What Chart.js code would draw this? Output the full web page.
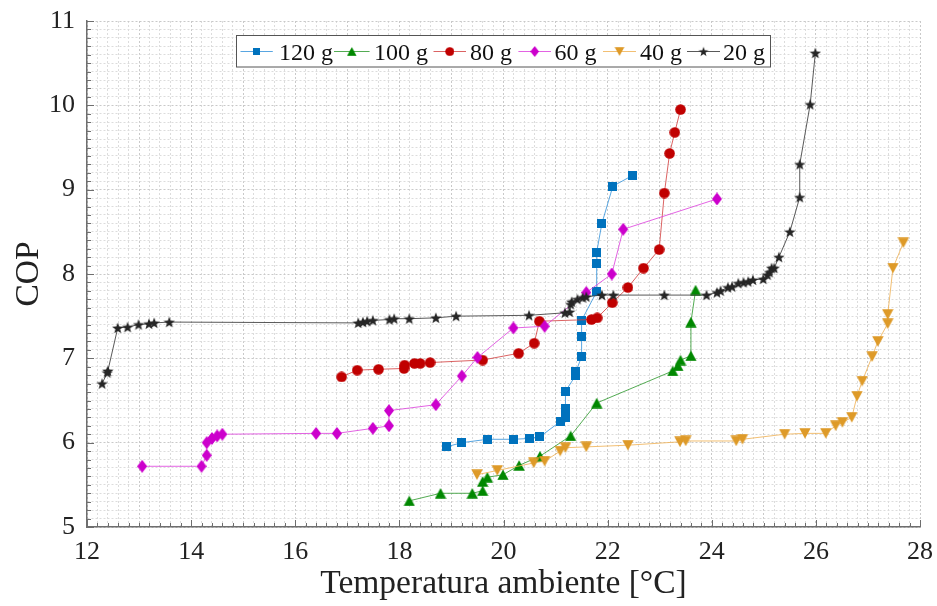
<!DOCTYPE html>
<html><head><meta charset="utf-8">
<script src="https://cdn.jsdelivr.net/npm/chart.js@4/dist/chart.umd.min.js"></script>
<style>html,body{margin:0;padding:0;background:#fff}</style>
</head><body>
<canvas id="c" width="937" height="606"></canvas>
<script>
// ---------- data ----------
const seriesNames = ['120 g','100 g','80 g','60 g','40 g','20 g'];
const xTickLabels = [12,14,16,18,20,22,24,26,28];
const yTickLabels = [5,6,7,8,9,10,11];

const x120 = [18.90,19.20,19.69,20.19,20.50,20.70,21.09,21.19,21.19,21.19,21.39,21.39,21.50,21.50,21.50,21.79,21.79,21.79,21.89,22.10,22.48];
const y120 = [5.95,6.00,6.04,6.04,6.05,6.07,6.25,6.30,6.41,6.61,6.80,6.84,7.02,7.26,7.45,7.79,8.12,8.26,8.60,9.04,9.17];

const x100 = [18.19,18.79,19.40,19.60,19.60,19.69,19.99,20.30,20.70,21.29,21.79,23.25,23.35,23.40,23.60,23.60,23.69];
const y100 = [5.31,5.40,5.40,5.43,5.54,5.59,5.62,5.73,5.84,6.08,6.47,6.85,6.91,6.98,7.03,7.43,7.81];

const x80 = [16.89,17.19,17.60,18.09,18.10,18.29,18.40,18.59,19.60,20.29,20.59,20.69,21.69,21.80,22.09,22.39,22.69,22.99,23.09,23.19,23.29,23.40];
const y80 = [6.78,6.86,6.87,6.88,6.92,6.94,6.94,6.95,6.98,7.06,7.18,7.44,7.46,7.48,7.66,7.84,8.07,8.29,8.96,9.43,9.68,9.95];

const x60 = [13.06,14.20,14.30,14.30,14.40,14.50,14.60,16.40,16.80,17.49,17.80,17.80,18.70,19.20,19.50,20.19,20.79,21.59,22.08,22.30,24.10];
const y60 = [5.72,5.72,5.85,6.00,6.05,6.08,6.10,6.11,6.11,6.17,6.20,6.38,6.45,6.79,7.01,7.36,7.38,7.78,8.00,8.53,8.89];

const x40 = [19.49,19.88,20.58,20.79,21.09,21.19,21.59,22.39,23.39,23.50,24.47,24.59,25.40,25.79,26.19,26.38,26.51,26.69,26.79,26.89,27.08,27.19,27.38,27.38,27.48,27.68];
const y40 = [5.62,5.67,5.76,5.78,5.90,5.94,5.95,5.97,6.01,6.02,6.02,6.04,6.10,6.11,6.11,6.20,6.24,6.30,6.55,6.73,7.02,7.20,7.41,7.52,8.07,8.37];

const x20 = [12.29,12.39,12.40,12.59,12.78,12.99,13.19,13.29,13.58,17.21,17.30,17.38,17.49,17.81,17.90,18.19,18.70,19.09,20.49,21.18,21.27,21.29,21.31,21.42,21.52,21.59,21.89,22.11,23.09,23.90,24.10,24.17,24.31,24.39,24.51,24.61,24.70,24.79,24.99,25.07,25.11,25.15,25.20,25.29,25.50,25.69,25.69,25.89,25.99];
const y20 = [6.70,6.83,6.85,7.36,7.37,7.40,7.41,7.42,7.43,7.42,7.43,7.44,7.45,7.46,7.47,7.47,7.48,7.50,7.51,7.54,7.55,7.64,7.67,7.70,7.72,7.73,7.75,7.75,7.75,7.75,7.78,7.80,7.84,7.85,7.89,7.90,7.91,7.93,7.94,7.99,8.02,8.07,8.07,8.20,8.50,8.91,9.30,10.01,10.62];

const seriesX = [x120,x100,x80,x60,x40,x20];
const seriesY = [y120,y100,y80,y60,y40,y20];

// ---------- styles ----------
const markerColors = ['#0072BD','#008800','#C00000','#CC00CC','#DE9A28','#262626'];
const lineColors = ['rgba(60,150,220,0.85)','rgba(40,150,40,0.8)','rgba(210,60,60,0.8)','rgba(220,60,220,0.8)','rgba(240,180,90,0.85)','rgba(60,60,60,0.85)'];

function mk(w,h,draw){const c=document.createElement('canvas');c.width=w;c.height=h;const g=c.getContext('2d');draw(g,w,h);return c;}
function shapes(col){
  return [
    mk(9,9,(g,w,h)=>{g.fillStyle=col;g.fillRect(0,0,w,h);}),
    mk(12,11,(g,w,h)=>{g.fillStyle=col;g.beginPath();g.moveTo(w/2,0.3);g.lineTo(w-0.3,h-0.3);g.lineTo(0.3,h-0.3);g.closePath();g.fill();}),
    mk(11,11,(g,w,h)=>{g.fillStyle=col;g.beginPath();g.arc(w/2,h/2,w/2-0.2,0,Math.PI*2);g.fill();}),
    mk(10,13,(g,w,h)=>{g.fillStyle=col;g.beginPath();g.moveTo(w/2,0);g.lineTo(w,h/2);g.lineTo(w/2,h);g.lineTo(0,h/2);g.closePath();g.fill();}),
    mk(12,11,(g,w,h)=>{g.fillStyle=col;g.beginPath();g.moveTo(0.3,0.3);g.lineTo(w-0.3,0.3);g.lineTo(w/2,h-0.3);g.closePath();g.fill();}),
    mk(12,12,(g,w,h)=>{g.fillStyle=col;g.beginPath();const cx=w/2,cy=h/2+0.5,R=6,r=2.5;for(let i=0;i<10;i++){const a=-Math.PI/2+i*Math.PI/5;const rr=i%2?r:R;const px=cx+rr*Math.cos(a),py=cy+rr*Math.sin(a);i?g.lineTo(px,py):g.moveTo(px,py);}g.closePath();g.fill();})
  ];
}
const markers = markerColors.map((c,i)=>shapes(c)[i]);

const datasets = seriesNames.map((n,i)=>({
  label:n,
  data: seriesX[i].map((x,j)=>({x:x,y:seriesY[i][j]})),
  showLine:true,
  borderColor: lineColors[i],
  borderWidth:1,
  pointStyle: markers[i],
  pointRadius:6,
  pointHoverRadius:6,
  order: seriesNames.length - i
}));

const AXIS = '#6e6e6e';
const FONT = 'Liberation Serif, Times New Roman, serif';

const innerTicks = {
  id:'innerTicks',
  afterDatasetsDraw(chart){
    const ctx=chart.ctx, xs=chart.scales.x, ys=chart.scales.y, a=chart.chartArea;
    ctx.save(); ctx.strokeStyle=AXIS; ctx.lineWidth=1;
    xs.ticks.forEach(t=>{const v=t.value,r=Math.round(v);const major=Math.abs(v-r)<1e-6&&xTickLabels.includes(r);const px=Math.round(xs.getPixelForValue(v))+0.5;const L=major?7:4;ctx.beginPath();ctx.moveTo(px,a.bottom);ctx.lineTo(px,a.bottom-L);ctx.stroke();});
    ys.ticks.forEach(t=>{const v=t.value,r=Math.round(v);const major=Math.abs(v-r)<1e-6;const py=Math.round(ys.getPixelForValue(v))+0.5;const L=major?7:4;ctx.beginPath();ctx.moveTo(a.left,py);ctx.lineTo(a.left+L,py);ctx.stroke();});
    ctx.restore();
  }
};

const legendPos = [[240.5,272.8,279],[334,369.6,374],[433.5,466,470],[518.4,551,554.6],[603,636,640],[687,720,723]];
const customLegend = {
  id:'customLegend',
  afterDraw(chart){
    const ctx=chart.ctx;
    ctx.save();
    ctx.fillStyle='#fff'; ctx.fillRect(236.5,35.5,534,31.5);
    ctx.strokeStyle='#555'; ctx.lineWidth=1; ctx.strokeRect(236.5,35.5,534,31.5);
    const cy=51;
    ctx.font='24px '+FONT; ctx.textBaseline='alphabetic'; ctx.fillStyle='#111';
    seriesNames.forEach((n,i)=>{
      const [x1,x2,tx]=legendPos[i];
      ctx.strokeStyle=lineColors[i]; ctx.lineWidth=1;
      ctx.beginPath(); ctx.moveTo(x1,cy+0.5); ctx.lineTo(x2,cy+0.5); ctx.stroke();
      const m=markers[i]; const mx=(x1+x2)/2;
      const s=0.85;
      ctx.drawImage(m, mx-m.width*s/2, cy-m.height*s/2+0.5, m.width*s, m.height*s);
      ctx.fillStyle='#111'; ctx.fillText(n, tx, 60);
    });
    ctx.restore();
  }
};

function gridColor(c){const v=c.tick?c.tick.value:0;const r=Math.round(v);return Math.abs(v-r)<1e-6?'#c9c9c9':'#dcdcdc';}

new Chart(document.getElementById('c'),{
  type:'scatter',
  data:{datasets},
  options:{
    responsive:false, devicePixelRatio:1, animation:false,
    layout:{padding:{top:21,right:17,left:0,bottom:0}},
    plugins:{legend:{display:false},tooltip:{enabled:false}},
    scales:{
      x:{type:'linear',min:12,max:28,
        afterFit(s){s.height=79;s.paddingLeft=0;s.paddingRight=0;},
        ticks:{stepSize:0.2,autoSkip:false,maxRotation:0,padding:10,color:'#222',font:{family:FONT,size:26},
          callback(v){const r=Math.round(v);return (Math.abs(v-r)<1e-6&&xTickLabels.includes(r))?String(r):'';}},
        grid:{color:gridColor,lineWidth:1,drawTicks:false},
        border:{display:true,color:AXIS,width:1.5,dash:[2,2]},
        title:{display:true,text:'Temperatura ambiente [°C]',color:'#222',font:{family:FONT,size:33.5},padding:{top:0,bottom:2}}
      },
      y:{type:'linear',min:5,max:11,
        afterFit(s){s.width=87;s.paddingTop=0;s.paddingBottom=0;},
        ticks:{stepSize:0.1,autoSkip:false,padding:12,color:'#222',font:{family:FONT,size:26},
          callback(v){const r=Math.round(v);return (Math.abs(v-r)<1e-6&&yTickLabels.includes(r))?String(r):'';}},
        grid:{color:gridColor,lineWidth:1,drawTicks:false},
        border:{display:true,color:AXIS,width:1.5,dash:[2,2]},
        title:{display:true,text:'COP',color:'#222',font:{family:FONT,size:33.5},padding:{top:9,bottom:0}}
      }
    }
  },
  plugins:[innerTicks,customLegend]
});
</script>
</body></html>
